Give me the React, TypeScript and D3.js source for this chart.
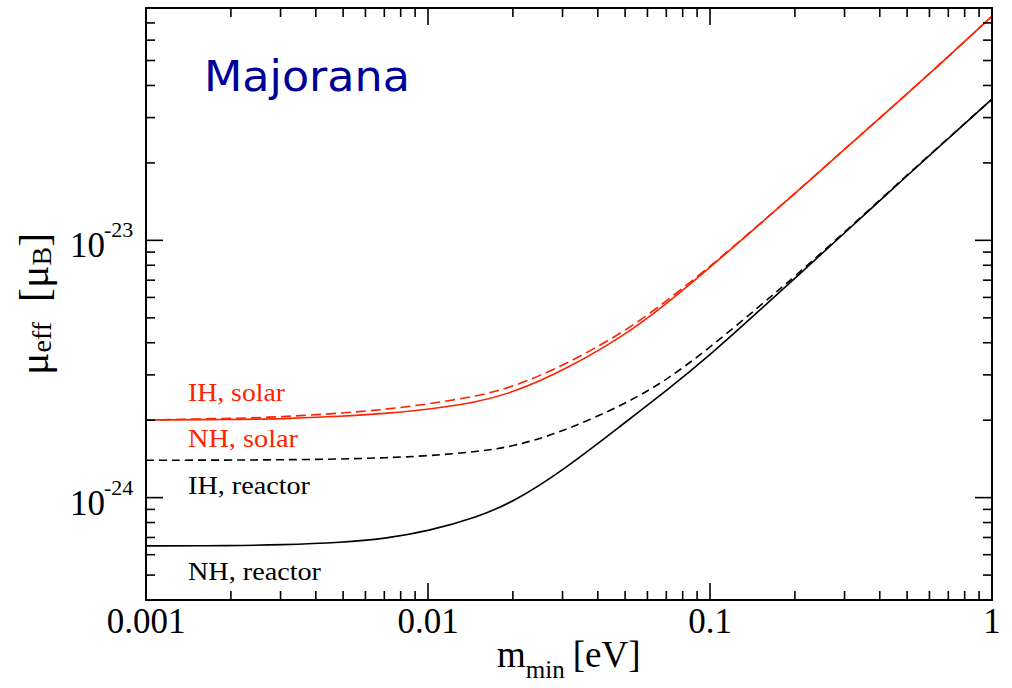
import React from 'react';
import * as d3 from 'd3';

// ---- data ----
const M_MIN = [0.001, 0.002, 0.003, 0.005, 0.007, 0.01, 0.015, 0.02, 0.03, 0.05, 0.07, 0.1, 0.15, 0.2, 0.3, 0.5, 0.7, 1];
const NH_REACTOR = [6.49e-25, 6.5e-25, 6.55e-25, 6.7e-25, 6.92e-25, 7.4e-25, 8.4e-25, 9.6e-25, 1.27e-24, 1.96e-24, 2.6e-24, 3.58e-24, 5.35e-24, 7.12e-24, 1.068e-23, 1.785e-23, 2.49e-23, 3.54e-23];
const IH_REACTOR = [1.397e-24, 1.399e-24, 1.403e-24, 1.412e-24, 1.428e-24, 1.452e-24, 1.51e-24, 1.577e-24, 1.8e-24, 2.31e-24, 2.856e-24, 3.83e-24, 5.55e-24, 7.24e-24, 1.075e-23, 1.795e-23, 2.495e-23, 3.54e-23];
const NH_SOLAR = [2.004e-24, 2.013e-24, 2.022e-24, 2.07e-24, 2.12e-24, 2.2e-24, 2.35e-24, 2.56e-24, 3.1e-24, 4.27e-24, 5.65e-24, 7.85e-24, 1.155e-23, 1.52e-23, 2.26e-23, 3.71e-23, 5.18e-23, 7.436e-23];
const IH_SOLAR = [2.004e-24, 2.03e-24, 2.06e-24, 2.13e-24, 2.2e-24, 2.31e-24, 2.48e-24, 2.69e-24, 3.24e-24, 4.42e-24, 5.8e-24, 7.9e-24, 1.158e-23, 1.522e-23, 2.261e-23, 3.71e-23, 5.18e-23, 7.436e-23];

const X_TICKS = [0.001, 0.01, 0.1, 1];
const X_TICK_LABELS = ['0.001', '0.01', '0.1', '1'];
const Y_TICKS = [1e-24, 1e-23];
const Y_TICK_EXPONENTS = ['-24', '-23'];

const CURVE_LABELS = ['IH, solar', 'NH, solar', 'IH, reactor', 'NH, reactor'];

const W = 1012;
const H = 688;
const L = 146, R = 992, T = 8, B = 600;
const RED = '#ff2200';

export default function App() {
  const x = d3.scaleLog().domain([0.001, 1]).range([L, R]);
  const y = d3.scaleLog().domain([4e-25, 8e-23]).range([B, T]);

  const line = d3
    .line<[number, number]>()
    .x((d) => x(d[0]))
    .y((d) => y(d[1]))
    .curve(d3.curveBasis);

  const mk = (vals: number[]) => line(M_MIN.map((m, i) => [m, vals[i]] as [number, number])) || '';

  const xMinor: number[] = [];
  [0.001, 0.01, 0.1].forEach((dec) => {
    for (let k = 2; k <= 9; k++) xMinor.push(dec * k);
  });
  const yMinor: number[] = [];
  [1e-25, 1e-24, 1e-23].forEach((dec) => {
    for (let k = 2; k <= 9; k++) {
      const v = dec * k;
      if (v > 4.01e-25 && v < 7.99e-23) yMinor.push(v);
    }
  });

  const majorLen = 17;
  const minorLen = 9;
  const font = '"Liberation Serif", "Times New Roman", serif';

  const labelY = [401, 447, 494, 580];
  const labelW = [97, 110, 122, 133];
  const labelC = [RED, RED, '#000', '#000'];

  return (
    <svg width={W} height={H} style={{ position: 'absolute', left: 0, top: 0, background: '#fff' }}>
      <rect x={0} y={0} width={W} height={H} fill="#fff" />
      <defs>
        <clipPath id="plotclip">
          <rect x={L} y={T} width={R - L} height={B - T} />
        </clipPath>
      </defs>

      <g clipPath="url(#plotclip)" fill="none">
        <path d={mk(NH_REACTOR)} stroke="#000" strokeWidth={1.6} />
        <path d={mk(IH_REACTOR)} stroke="#000" strokeWidth={1.6} strokeDasharray="8,5" />
        <path d={mk(NH_SOLAR)} stroke={RED} strokeWidth={1.6} />
        <path d={mk(IH_SOLAR)} stroke={RED} strokeWidth={1.6} strokeDasharray="10,5" />
      </g>

      <g stroke="#000" strokeWidth={1.6}>
        {X_TICKS.map((t) => (
          <g key={'xM' + t}>
            <line x1={x(t)} x2={x(t)} y1={B} y2={B - majorLen} />
            <line x1={x(t)} x2={x(t)} y1={T} y2={T + majorLen} />
          </g>
        ))}
        {xMinor.map((t) => (
          <g key={'xm' + t}>
            <line x1={x(t)} x2={x(t)} y1={B} y2={B - minorLen} />
            <line x1={x(t)} x2={x(t)} y1={T} y2={T + minorLen} />
          </g>
        ))}
        {Y_TICKS.map((t) => (
          <g key={'yM' + t}>
            <line x1={L} x2={L + majorLen} y1={y(t)} y2={y(t)} />
            <line x1={R} x2={R - majorLen} y1={y(t)} y2={y(t)} />
          </g>
        ))}
        {yMinor.map((t) => (
          <g key={'ym' + t}>
            <line x1={L} x2={L + minorLen} y1={y(t)} y2={y(t)} />
            <line x1={R} x2={R - minorLen} y1={y(t)} y2={y(t)} />
          </g>
        ))}
      </g>

      <rect x={L} y={T} width={R - L} height={B - T} fill="none" stroke="#000" strokeWidth={2} />

      <g fontFamily={font} fontSize={35} fill="#000" textAnchor="middle">
        {X_TICKS.map((t, i) => (
          <text key={'xl' + t} x={x(t)} y={633}>
            {X_TICK_LABELS[i]}
          </text>
        ))}
      </g>

      <g fontFamily={font} fill="#000">
        {Y_TICKS.map((t, i) => (
          <g key={'yl' + t}>
            <text x={105} y={y(t) + 17} fontSize={35} textAnchor="end">
              10
            </text>
            <text x={104} y={y(t) - 3} fontSize={22} textAnchor="start">
              {Y_TICK_EXPONENTS[i]}
            </text>
          </g>
        ))}
      </g>

      <text x={497} y={667} fontFamily={font} fontSize={37} fill="#000">
        <tspan>m</tspan>
        <tspan fontSize={25} dy={11}>min</tspan>
        <tspan dy={-11} dx={8}>[eV]</tspan>
      </text>

      <text transform="translate(48, 375) rotate(-90)" fontFamily={font} fontSize={42} fill="#000">
        <tspan>μ</tspan>
        <tspan fontSize={28} dy={3}>eff</tspan>
        <tspan dy={-3} dx={20}>[μ</tspan>
        <tspan fontSize={28} dy={3}>B</tspan>
        <tspan dy={-3}>]</tspan>
      </text>

      <g fontFamily={font} fontSize={26}>
        {CURVE_LABELS.map((c, i) => (
          <text key={c} x={188} y={labelY[i]} fill={labelC[i]} textLength={labelW[i]} lengthAdjust="spacingAndGlyphs">
            {c}
          </text>
        ))}
      </g>

      <text
        x={204}
        y={91}
        fontFamily='"Comic Sans MS", "DejaVu Sans", sans-serif'
        fontSize={42}
        fill="#000099"
        textLength={206}
        lengthAdjust="spacingAndGlyphs"
      >
        Majorana
      </text>
    </svg>
  );
}
